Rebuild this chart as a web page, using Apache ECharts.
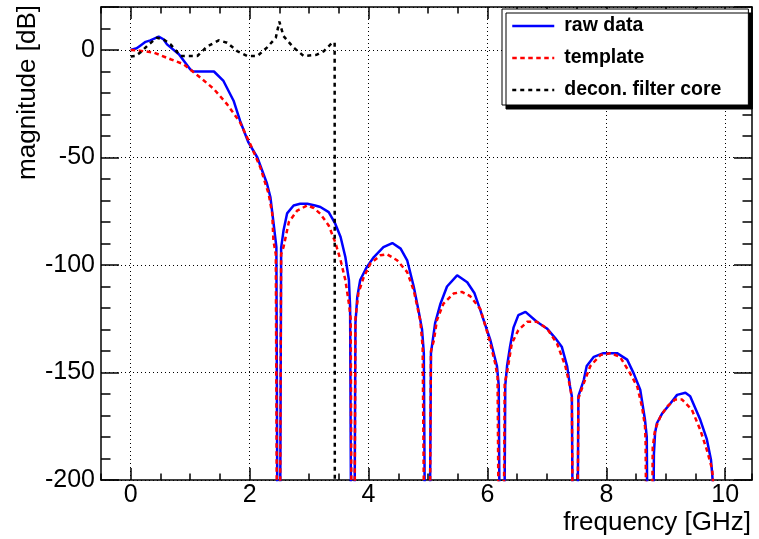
<!DOCTYPE html>
<html><head><meta charset="utf-8">
<script src="https://cdn.jsdelivr.net/npm/echarts@6/dist/echarts.min.js"></script>
<style>html,body{margin:0;padding:0;background:#fff}#c{width:759px;height:539px}</style>
</head><body><div id="c"></div>
<script>
// ---- data (frequency in GHz, magnitude in dB) ----
const rawFreq = [0.0,0.10,0.16,0.25,0.33,0.47,0.55,0.61,0.81,1.0,1.05,1.40,1.56,1.73,1.84,1.98,2.13,2.29,2.35,2.40,2.45,2.49,2.53,2.57,2.63,2.74,2.85,2.97,3.10,3.19,3.33,3.44,3.53,3.61,3.67,3.69,3.735,3.78,3.81,3.86,3.97,4.09,4.25,4.40,4.54,4.65,4.76,4.84,4.90,4.93,4.99,5.05,5.12,5.21,5.32,5.49,5.66,5.78,5.88,6.05,6.16,6.19,6.245,6.30,6.33,6.38,6.44,6.52,6.64,6.83,7.00,7.14,7.25,7.34,7.39,7.42,7.475,7.53,7.62,7.67,7.79,7.95,8.18,8.35,8.46,8.57,8.65,8.68,8.735,8.80,8.82,8.85,8.94,9.08,9.19,9.33,9.41,9.58,9.69,9.76,9.78,9.80];
const rawDb   = [0,0.8,2,3.8,4.5,6.2,5,2.6,-2,-9,-10,-10,-14.4,-23.6,-33,-43,-50,-62,-68.5,-80,-91.7,-400,-92,-84,-76,-72.3,-71.5,-71.5,-72.3,-73,-75.4,-80.8,-87,-96.3,-107,-119.5,-400,-127,-115,-107,-101,-96.3,-91.7,-89.8,-92.4,-97.8,-110,-121,-130,-141,-400,-141,-127,-118,-110,-104.8,-108,-113,-121,-135,-147,-156,-400,-156,-147,-138,-129,-123.3,-121.8,-126.4,-129.5,-134,-138,-147,-156.6,-161,-400,-161,-153.5,-147,-142.7,-141,-141,-144,-150.4,-158,-172,-180,-400,-188,-178,-173.6,-169,-164.3,-160.4,-159.4,-161,-172,-181,-190.6,-197,-205];

const tplFreq = [0.0,0.15,0.39,0.67,0.89,1.17,1.40,1.62,1.84,2.01,2.18,2.32,2.38,2.40,2.44,2.485,2.53,2.57,2.66,2.80,2.97,3.08,3.19,3.33,3.44,3.53,3.61,3.67,3.70,3.74,3.78,3.83,3.92,4.03,4.20,4.31,4.48,4.65,4.76,4.87,4.91,4.99,5.05,5.10,5.15,5.26,5.43,5.57,5.71,5.88,6.02,6.13,6.17,6.235,6.29,6.33,6.41,6.52,6.67,6.83,7.00,7.17,7.31,7.39,7.42,7.475,7.53,7.62,7.73,7.90,8.07,8.23,8.40,8.52,8.60,8.65,8.66,8.72,8.78,8.82,8.91,9.02,9.16,9.27,9.44,9.58,9.69,9.78,9.80];
const tplDb   = [0,-0.3,-1.2,-4.3,-6.6,-12.8,-18.2,-25.2,-33.7,-43.7,-54.6,-67,-76,-88.6,-95,-400,-95,-91.7,-80,-74.7,-72.3,-73.5,-76.2,-81.6,-89.4,-97.8,-107,-118,-125,-400,-125,-113,-105.6,-99.4,-95.5,-95,-97.8,-103.3,-111.8,-125.7,-138,-400,-140,-135,-125.7,-118,-113.3,-112.5,-114.5,-120.5,-133.4,-145.7,-152,-400,-155,-150,-136.5,-130.3,-126.4,-126.4,-129.5,-136.5,-147,-156.6,-162,-400,-162,-155,-147,-141.9,-141,-142.7,-150.4,-156.6,-165.9,-175,-182,-400,-185,-176.5,-170.5,-165.9,-162.5,-162.5,-167.4,-176.7,-186,-195,-203];

const coreFreq = [0.0,0.08,0.16,0.30,0.44,0.55,0.67,0.84,1.12,1.28,1.48,1.62,1.79,1.96,2.13,2.29,2.44,2.50,2.57,2.74,2.91,3.13,3.25,3.39,3.43,3.435];
const coreDb   = [-3,-2.8,-1.2,2.5,5.7,5,2.6,-2.8,-2.8,1.5,4.5,3.4,-0.5,-2.8,-2.8,1.1,5.7,13.2,6.5,1.1,-2.8,-2.2,-0.5,3.4,3.5,-400];

const seriesNames = ['raw data','template','decon. filter core'];
const xMajorTicks = [0,2,4,6,8,10];
const xTitle = 'frequency [GHz]';
const yTitle = 'magnitude [dB]';

const FONT = "'Liberation Sans', Arial, Helvetica, sans-serif";
const zip = (a,b) => a.map((v,i)=>[v,b[i]]);
const X_MIN=-0.5, X_MAX=10.45, Y_MIN=-200, Y_MAX=20;
const tickStyle = {color:'#000', width:1.5};

function xAx(pos, major){
  const o = {type:'value', min:X_MIN, max:X_MAX, position:pos, gridIndex:0,
    axisLine:{show:major, onZero:false, lineStyle:{color:'#000', width:1.5}},
    axisLabel:{show:false}, splitLine:{show:false}, minorTick:{show:false}};
  if (major) {
    o.axisTick = {show:true, inside:true, length:12, customValues:xMajorTicks, lineStyle:tickStyle};
    if (pos==='bottom') {
      o.axisLabel = {show:true, customValues:xMajorTicks, fontSize:25, color:'#000', fontFamily:FONT, margin:3};
      o.splitLine = {show:true, lineStyle:{color:'#000', width:1, type:[1,3]}};
    }
  } else {
    o.interval = 0.5;
    o.axisTick = {show:true, inside:true, length:6.5, lineStyle:tickStyle};
  }
  return o;
}
function yAx(pos, major){
  const o = {type:'value', min:Y_MIN, max:Y_MAX, position:pos, gridIndex:0,
    axisLine:{show:major, onZero:false, lineStyle:{color:'#000', width:1.5}},
    axisLabel:{show:false}, splitLine:{show:false}, minorTick:{show:false}};
  if (major) {
    o.interval = 50;
    o.axisTick = {show:true, inside:true, length:18, lineStyle:tickStyle};
    if (pos==='left') {
      o.axisLabel = {show:true, fontSize:25, color:'#000', fontFamily:FONT, margin:6,
        formatter: v => (v % 50 === 0 ? String(v) : '')};
      o.splitLine = {show:true, lineStyle:{color:'#000', width:1, type:[1,3]}};
    }
  } else {
    o.interval = 10;
    o.axisTick = {show:true, inside:true, length:9.5, lineStyle:tickStyle};
  }
  return o;
}

const chart = echarts.init(document.getElementById('c'), null, {renderer:'canvas'});
chart.setOption({
  animation:false,
  backgroundColor:'#fff',
  grid:{left:101, right:7, top:7, bottom:59, containLabel:false, outerBoundsMode:'none'},
  xAxis:[xAx('bottom',true), xAx('bottom',false), xAx('top',true), xAx('top',false)],
  yAxis:[yAx('left',true), yAx('left',false), yAx('right',true), yAx('right',false)],
  legend:{
    orient:'vertical', left:502, top:9, padding:[7,27,5,9], itemGap:12,
    itemWidth:42, itemHeight:20,
    backgroundColor:'#fff', borderColor:'#000', borderWidth:1,
    shadowColor:'#000', shadowOffsetX:4, shadowOffsetY:4, shadowBlur:0,
    lineStyle:{width:2.5},
    itemStyle:{color:'rgba(0,0,0,0)', borderColor:'rgba(0,0,0,0)', borderWidth:0, opacity:0},
    textStyle:{fontFamily:FONT, fontWeight:'bold', fontSize:19.5, color:'#000', padding:[0,0,0,5]},
    data:seriesNames
  },
  series:[
    {name:seriesNames[0], type:'line', data:zip(rawFreq,rawDb), showSymbol:false, symbol:'none', clip:true,
      lineStyle:{color:'#0000ff', width:2.5}, itemStyle:{color:'#0000ff'}},
    {name:seriesNames[1], type:'line', data:zip(tplFreq,tplDb), showSymbol:false, symbol:'none', clip:true,
      lineStyle:{color:'#ff0000', width:2.5, type:[4.5,3.5]}, itemStyle:{color:'#ff0000'}},
    {name:seriesNames[2], type:'line', data:zip(coreFreq,coreDb), showSymbol:false, symbol:'none', clip:true,
      lineStyle:{color:'#000000', width:2.5, type:[4,4]}, itemStyle:{color:'#000000'}}
  ],
  graphic:[
    {type:'text', x:751, y:523, style:{text:xTitle, font:'26px ' + FONT, fill:'#000', align:'right', verticalAlign:'middle'}},
    {type:'text', x:27.5, y:5, rotation:Math.PI/2, style:{text:yTitle, font:'26px ' + FONT, fill:'#000', align:'right', verticalAlign:'middle'}}
  ]
});
</script></body></html>
